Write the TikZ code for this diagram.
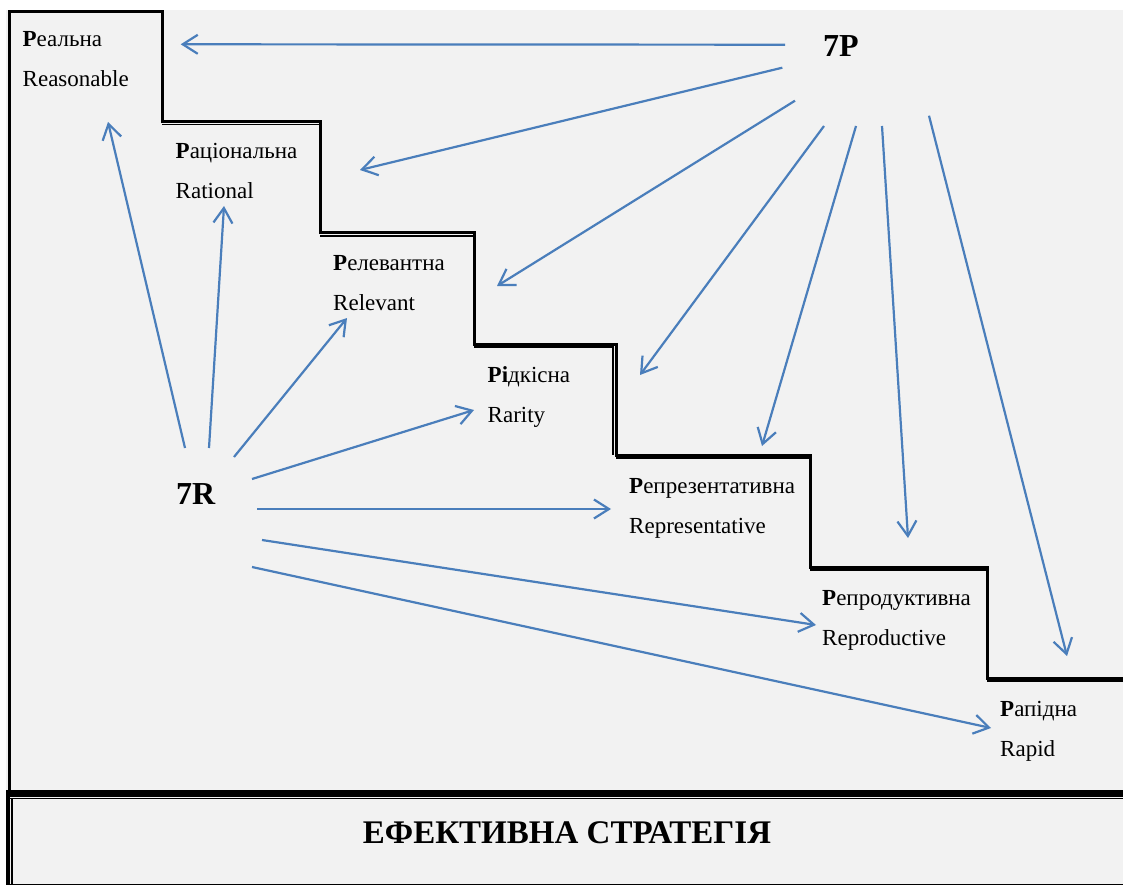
\documentclass[tikz,border=0pt]{standalone}
\usepackage{fontspec}
\setmainfont{Liberation Serif}
\usetikzlibrary{arrows.meta}
\definecolor{arrblue}{HTML}{4A7EBB}
\definecolor{bggray}{HTML}{F2F2F2}
\begin{document}
\begin{tikzpicture}[x=1pt,y=-1pt,
    arr/.style={draw=arrblue,line width=2.2pt,-{Straight Barb[length=15pt,width=19pt]}},
    lbl/.style={anchor=base west,inner sep=0pt,font=\fontsize{23}{28}\selectfont},
    big/.style={anchor=base west,inner sep=0pt,font=\fontsize{32}{38}\selectfont\bfseries},
    wall/.style={line width=3pt},
    seam/.style={line width=1.2pt}]
\useasboundingbox (0,0) rectangle (1123,885);
\fill[bggray] (6,10) rectangle (1123,885);
% steps
\draw[wall] (9.5,790) -- (9.5,11.5) -- (162.5,11.5) -- (162.5,121.5) -- (320.5,121.5)
    -- (320.5,233) -- (474.5,233) -- (474.5,344) -- (616,344) -- (616,455)
    -- (810.5,455) -- (810.5,567) -- (987.5,567) -- (987.5,678) -- (1123,678);
\draw[seam] (162,124.5) -- (320,124.5);
\draw[seam] (320,236) -- (474,236);
\draw[seam] (474,347) -- (613,347) -- (613,455);
\draw[seam] (616,458) -- (810,458);
\draw[seam] (810,570) -- (987,570);
\draw[seam] (987,681) -- (1123,681);
% base
\draw[line width=7pt] (6,793) -- (1123,793);
\draw[seam] (6,798.8) -- (1123,798.8);
\draw[line width=4pt] (8,797) -- (8,885);
\draw[seam] (12,799) -- (12,884);
\draw[seam] (6,884.4) -- (1123,884.4);
\node[font=\fontsize{33}{38}\selectfont\bfseries,inner sep=0pt] (goal) at (567,833) {ЕФЕКТИВНА СТРАТЕГІЯ};

\node[lbl] (ua1) at (22.5,47) {\textbf{Р}еальна};
\node[lbl] (en1) at (22.5,87) {Reasonable};
\node[lbl] (ua2) at (175.5,159) {\textbf{Р}аціональна};
\node[lbl] (en2) at (175.5,199) {Rational};
\node[lbl] (ua3) at (333,270) {\textbf{Р}елевантна};
\node[lbl] (en3) at (333,310) {Relevant};
\node[lbl] (ua4) at (487.5,382) {\textbf{Рі}дкісна};
\node[lbl] (en4) at (487.5,422) {Rarity};
\node[lbl] (ua5) at (629,493) {\textbf{Р}епрезентативна};
\node[lbl] (en5) at (629,533) {Representative};
\node[lbl] (ua6) at (822,605) {\textbf{Р}епродуктивна};
\node[lbl] (en6) at (822,645) {Reproductive};
\node[lbl] (ua7) at (1000,716) {\textbf{Р}апідна};
\node[lbl] (en7) at (1000,756) {Rapid};

\node[big] (sevenP) at (823,57) {7Р};
\node[big] (sevenR) at (176,504) {7R};

\coordinate (p1) at (785,44.7);   \coordinate (pe1) at (180.7,44.3);
\coordinate (p2) at (782.3,67.7); \coordinate (pe2) at (360,170);
\coordinate (p3) at (795,100.7);  \coordinate (pe3) at (497,286);
\coordinate (p4) at (824,126);    \coordinate (pe4) at (640,375);
\coordinate (p5) at (856,126);    \coordinate (pe5) at (762,446);
\coordinate (p6) at (882,126);    \coordinate (pe6) at (908,538);
\coordinate (p7) at (929,115.7);  \coordinate (pe7) at (1067,656);

\coordinate (r1) at (185,448);    \coordinate (re1) at (108,122);
\coordinate (r2) at (209,448);    \coordinate (re2) at (224,206);
\coordinate (r3) at (234,457);    \coordinate (re3) at (347,318);
\coordinate (r4) at (252,479);    \coordinate (re4) at (474,410);
\coordinate (r5) at (257,509);    \coordinate (re5) at (611,509);
\coordinate (r6) at (262,540);    \coordinate (re6) at (816,625);
\coordinate (r7) at (252,567);    \coordinate (re7) at (991,728);

\draw[arr] (p1) -- (pe1);
\draw[arr] (p2) -- (pe2);
\draw[arr] (p3) -- (pe3);
\draw[arr] (p4) -- (pe4);
\draw[arr] (p5) -- (pe5);
\draw[arr] (p6) -- (pe6);
\draw[arr] (p7) -- (pe7);
\draw[arr] (r1) -- (re1);
\draw[arr] (r2) -- (re2);
\draw[arr] (r3) -- (re3);
\draw[arr] (r4) -- (re4);
\draw[arr] (r5) -- (re5);
\draw[arr] (r6) -- (re6);
\draw[arr] (r7) -- (re7);
\end{tikzpicture}
\end{document}
